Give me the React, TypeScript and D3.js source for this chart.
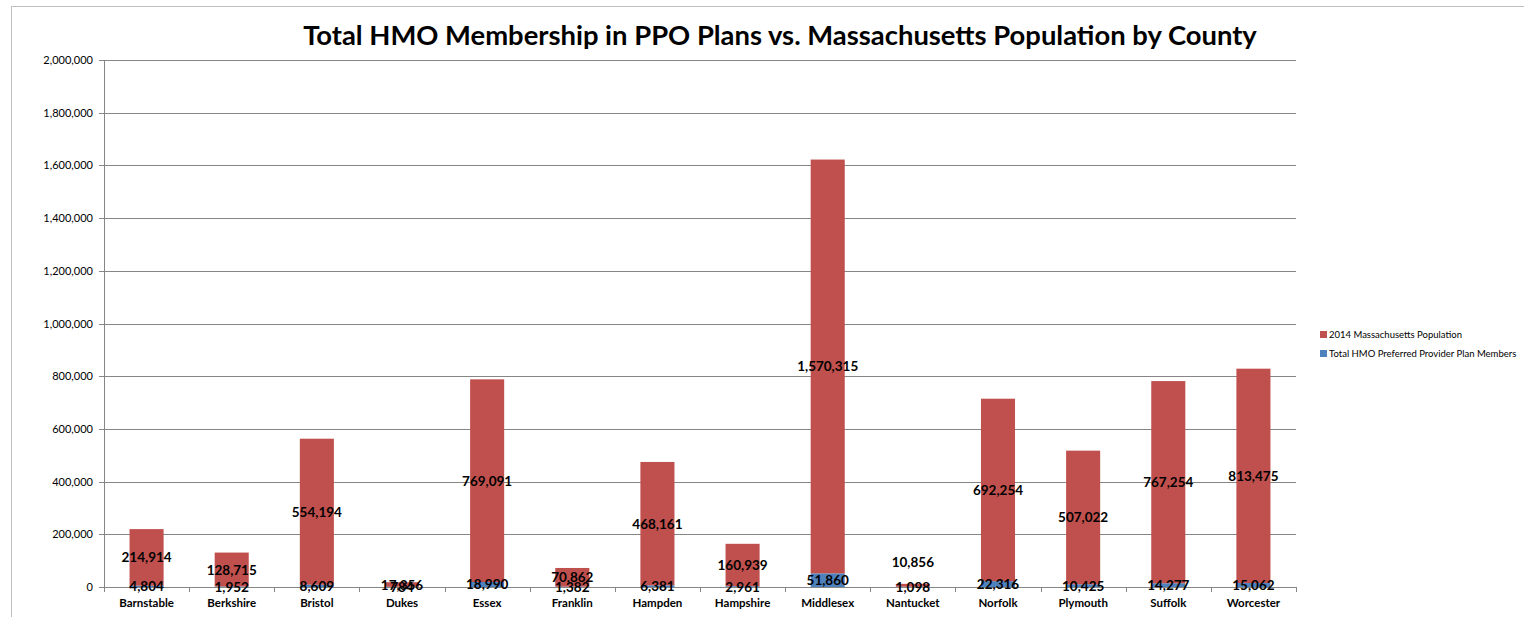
import React from "react";
import * as d3 from "d3";

const counties = ["Barnstable","Berkshire","Bristol","Dukes","Essex","Franklin","Hampden","Hampshire","Middlesex","Nantucket","Norfolk","Plymouth","Suffolk","Worcester"];
const hmoMembers = [4804,1952,8609,784,18990,1382,6381,2961,51860,1098,22316,10425,14277,15062];
const population = [214914,128715,554194,17356,769091,70862,468161,160939,1570315,10856,692254,507022,767254,813475];
const yTicks = [0,200000,400000,600000,800000,1000000,1200000,1400000,1600000,1800000,2000000];
const seriesNames = ["2014 Massachusetts Population","Total HMO Preferred Provider Plan Members"];
const title = "Total HMO Membership in PPO Plans vs. Massachusetts Population by County";

const RED = "#C0504D";
const BLUE = "#4F81BD";
const FONT = "Lato, 'Open Sans', sans-serif";

export default function App() {
  const W = 1524, H = 617;
  const left = 104, right = 1296, top = 60, bottom = 587;
  const x = d3.scaleBand<string>().domain(counties).range([left, right]).paddingInner(0).paddingOuter(0);
  const y = d3.scaleLinear().domain([0, 2000000]).range([bottom, top]);
  const bw = x.bandwidth() * 0.4;
  const fmt = d3.format(",");
  const labelNudge: Record<string, number> = { Nantucket: -23 };

  return (
    <svg width={W} height={H} style={{ position: "absolute", left: 0, top: 0, fontFamily: FONT }}>
      <rect x={0} y={0} width={W} height={H} fill="#fff" />
      <line x1={11.5} y1={6} x2={11.5} y2={H} stroke="#bfbfbf" />
      <line x1={11} y1={6.5} x2={W} y2={6.5} stroke="#bfbfbf" />
      <text x={780} y={45} textAnchor="middle" fontSize={27.4} fontWeight={700} fill="#000">{title}</text>
      {yTicks.map((t) => (
        <g key={t}>
          <line x1={left} x2={right} y1={Math.round(y(t)) + 0.5} y2={Math.round(y(t)) + 0.5} stroke="#868686" strokeWidth={1} />
          <line x1={left - 5} x2={left} y1={Math.round(y(t)) + 0.5} y2={Math.round(y(t)) + 0.5} stroke="#868686" />
          <text x={93} y={y(t) + 4} textAnchor="end" fontSize={11} fill="#000">{fmt(t)}</text>
        </g>
      ))}
      <line x1={left + 0.5} x2={left + 0.5} y1={top} y2={bottom} stroke="#868686" />
      {counties.map((c, i) => {
        const cx = x(c)! + x.bandwidth() / 2;
        const b = hmoMembers[i];
        const r = population[i];
        return (
          <g key={c}>
            <rect x={cx - bw / 2} y={y(b)} width={bw} height={y(0) - y(b)} fill={BLUE} />
            <rect x={cx - bw / 2} y={y(b + r)} width={bw} height={y(b) - y(b + r)} fill={RED} />
          </g>
        );
      })}
      {[...counties, ""].map((c, i) => {
        const xx = Math.round(left + i * x.step()) + 0.5;
        return <line key={"t" + i} x1={xx} x2={xx} y1={bottom} y2={bottom + 5} stroke="#868686" />;
      })}
      {counties.map((c, i) => {
        const cx = x(c)! + x.bandwidth() / 2;
        const b = hmoMembers[i];
        const r = population[i];
        return (
          <g key={"l" + c} fontWeight={700} fontSize={13.5} fill="#000" textAnchor="middle">
            <text x={cx} y={y(b + r / 2) + 5 + (labelNudge[c] || 0)}>{fmt(r)}</text>
            <text x={cx} y={y(b / 2) + 5}>{fmt(b)}</text>
            <text x={cx} y={607} fontSize={11.5}>{c}</text>
          </g>
        );
      })}
      <rect x={1320} y={331} width={7} height={7} fill={RED} />
      <text x={1329} y={338} fontSize={9.5} fill="#000">{seriesNames[0]}</text>
      <rect x={1320} y={350} width={7} height={7} fill={BLUE} />
      <text x={1329} y={357} fontSize={9.5} fill="#000">{seriesNames[1]}</text>
    </svg>
  );
}
